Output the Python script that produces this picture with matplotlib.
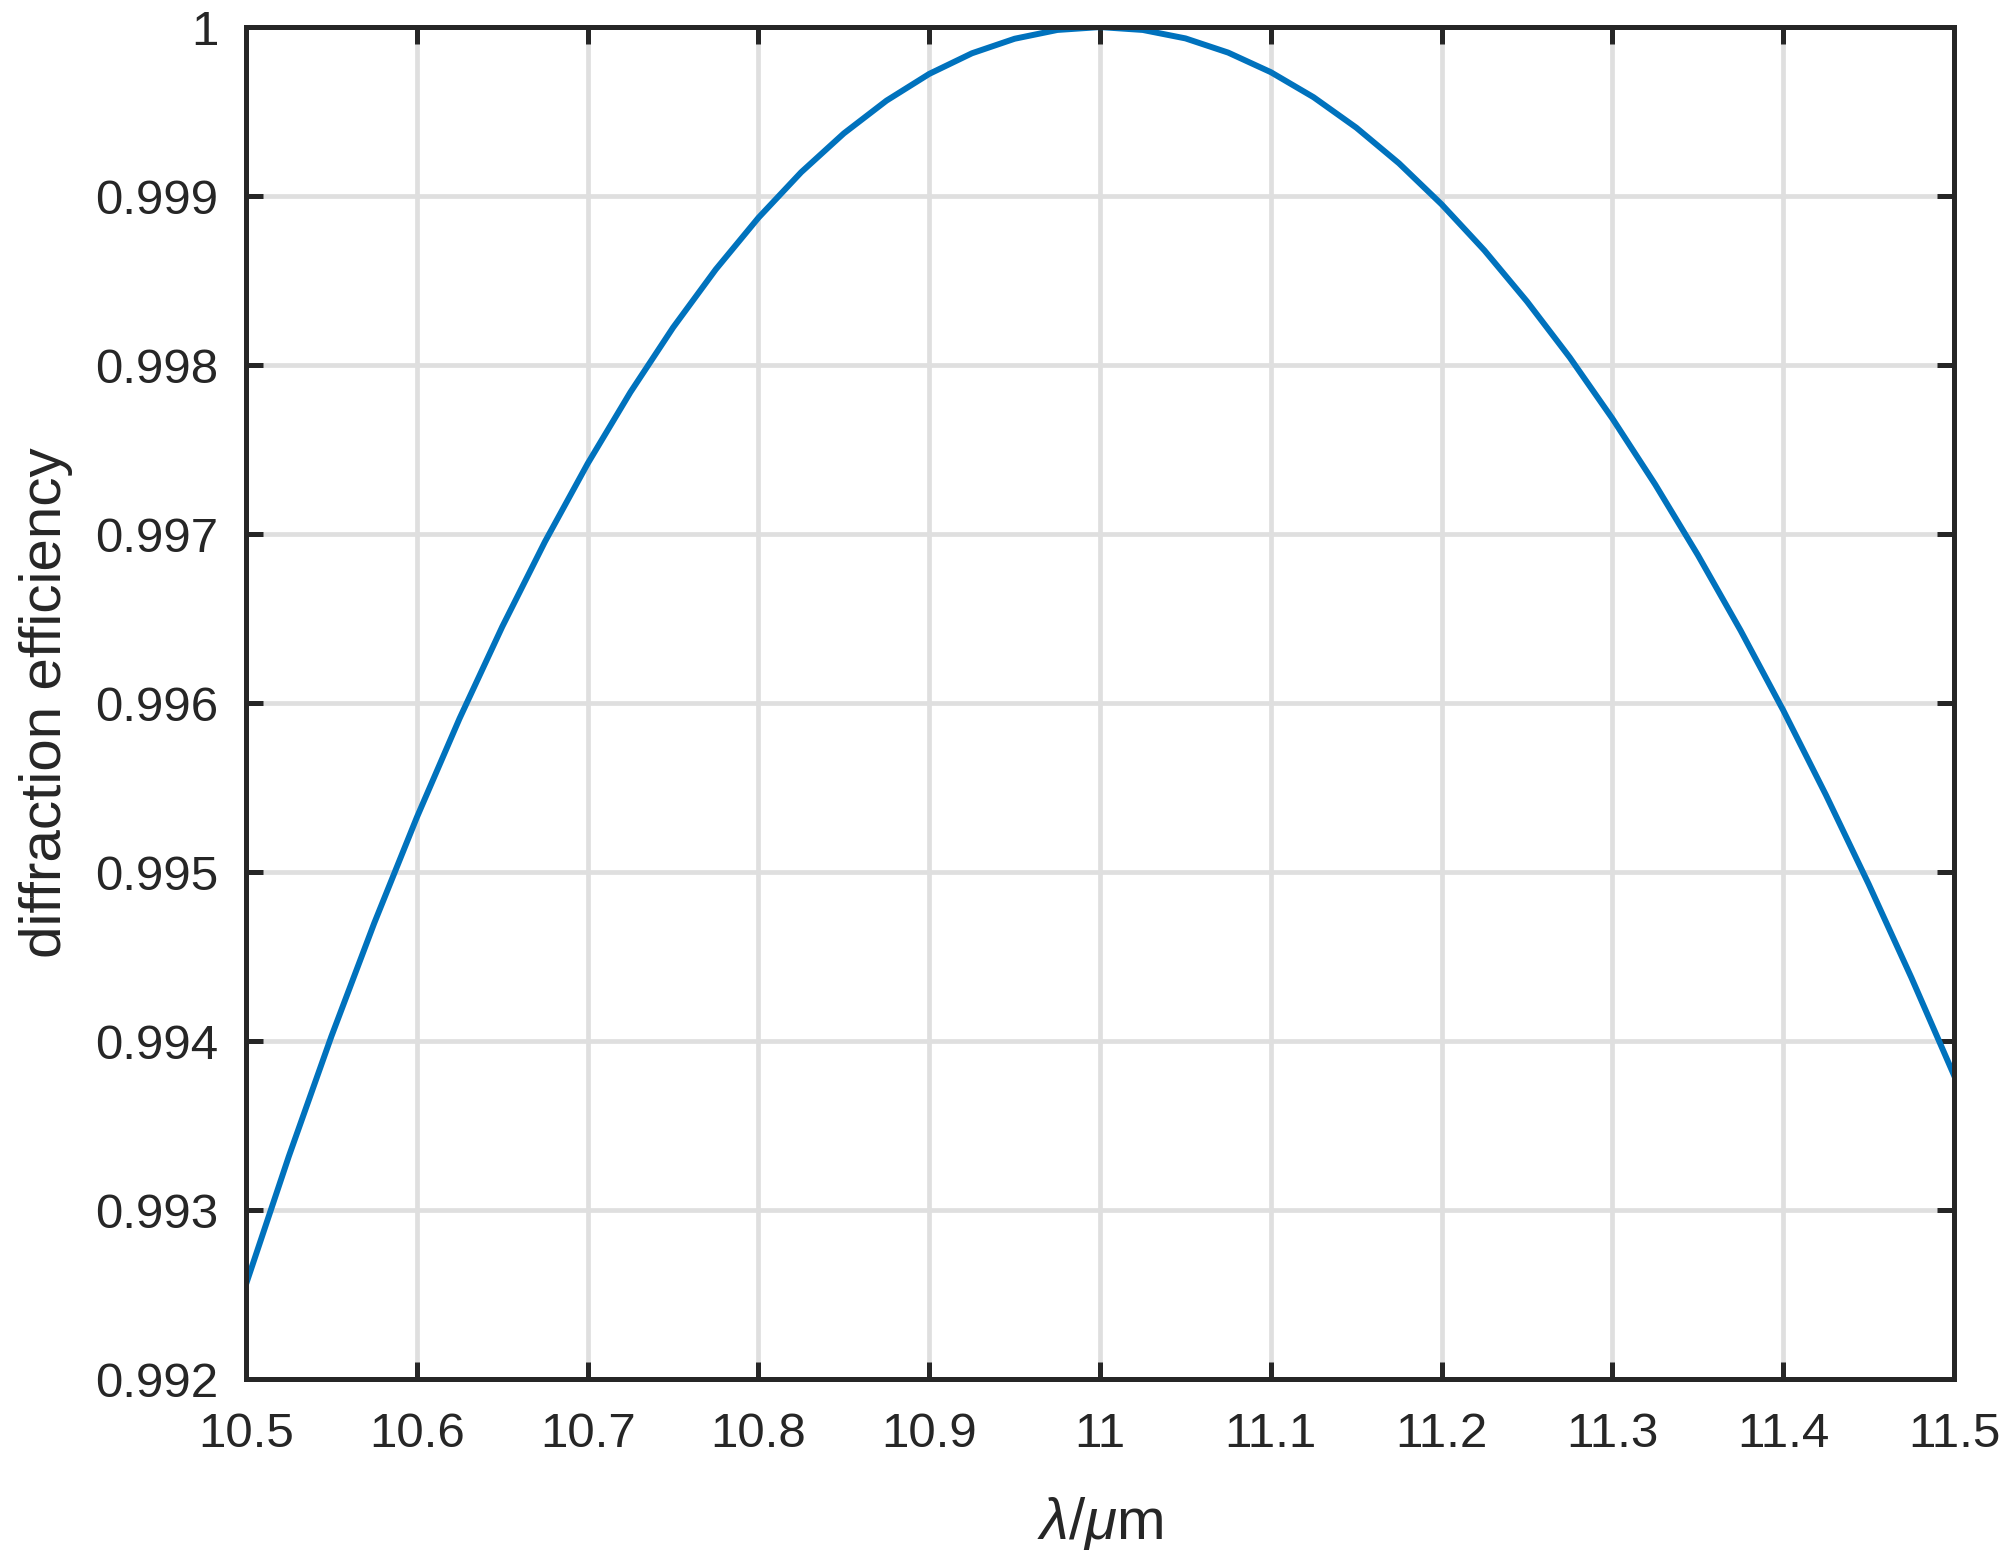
import matplotlib
matplotlib.use("Agg")
import matplotlib.pyplot as plt

# Values
wavelength = [10.5, 10.525, 10.55, 10.575, 10.6, 10.625, 10.65, 10.675, 10.7, 10.725,
              10.75, 10.775, 10.8, 10.825, 10.85, 10.875, 10.9, 10.925, 10.95, 10.975,
              11.0, 11.025, 11.05, 11.075, 11.1, 11.125, 11.15, 11.175, 11.2, 11.225,
              11.25, 11.275, 11.3, 11.325, 11.35, 11.375, 11.4, 11.425, 11.45, 11.475, 11.5]
efficiency = [0.992562, 0.993317, 0.994029, 0.994697, 0.995324, 0.995909, 0.996452, 0.996955,
              0.997417, 0.997839, 0.998222, 0.998566, 0.998872, 0.999141, 0.999371, 0.999565,
              0.999723, 0.999845, 0.999931, 0.999983, 1.000000, 0.999983, 0.999933, 0.999849,
              0.999733, 0.999585, 0.999405, 0.999194, 0.998951, 0.998679, 0.998376, 0.998045,
              0.997683, 0.997294, 0.996876, 0.996430, 0.995957, 0.995456, 0.994929, 0.994376,
              0.993797]

xticks = [10.5, 10.6, 10.7, 10.8, 10.9, 11.0, 11.1, 11.2, 11.3, 11.4, 11.5]
xticklabels = ["10.5", "10.6", "10.7", "10.8", "10.9", "11", "11.1", "11.2", "11.3", "11.4", "11.5"]
yticks = [0.992, 0.993, 0.994, 0.995, 0.996, 0.997, 0.998, 0.999, 1.0]
yticklabels = ["0.992", "0.993", "0.994", "0.995", "0.996", "0.997", "0.998", "0.999", "1"]

plt.rcParams['font.family'] = ['Liberation Sans', 'DejaVu Sans']
plt.rcParams['mathtext.fontset'] = 'custom'
plt.rcParams['mathtext.rm'] = 'Liberation Sans'
plt.rcParams['mathtext.it'] = 'Liberation Sans:italic'

axis_color = '#262626'
fig = plt.figure(figsize=(20.12, 15.65), dpi=100)
ax = fig.add_axes([0.1223, 0.1188, 0.9712 - 0.1223, 0.9827 - 0.1188])

ax.plot(wavelength, efficiency, color='#0072BD', linewidth=4.3, zorder=2)

ax.set_xlim(10.5, 11.5)
ax.set_ylim(0.992, 1.0)
ax.set_xticks(xticks)
ax.set_xticklabels(xticklabels)
ax.set_yticks(yticks)
ax.set_yticklabels(yticklabels)

ax.grid(True, color='#dfdfdf', linewidth=3.4, zorder=0)
ax.set_axisbelow(True)

for s in ax.spines.values():
    s.set_color(axis_color)
    s.set_linewidth(3.6)
    s.set_zorder(3)

ax.tick_params(axis='both', which='both', direction='in', length=12, width=3.6,
               color=axis_color, labelcolor=axis_color, labelsize=35.5,
               top=True, right=True)
ax.tick_params(axis='y', pad=20)
ax.tick_params(axis='x', pad=24)

ax.set_ylabel('diffraction efficiency', fontsize=42, color=axis_color, labelpad=16)
ax.set_xlabel(r'$\lambda/\mu$m', fontsize=42, color=axis_color, labelpad=27)

fig.savefig('out.png', dpi=100)
